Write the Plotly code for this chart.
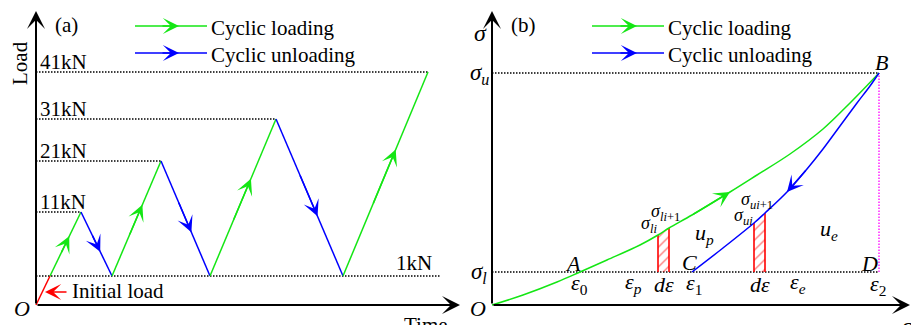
import plotly.graph_objects as go

# ---------------- data: panel (a) ----------------
time_pts = [0, 14, 45, 76, 125, 174, 240, 307, 392]
load_pts = [0, 29, 93, 29, 144, 29, 186, 29, 233]
seg_kind = ["initial", "load", "unload", "load", "unload", "load", "unload", "load"]
level_labels = ["1kN", "11kN", "21kN", "31kN", "41kN"]
level_heights = [29, 93, 144, 186, 233]

# ---------------- data: panel (b) ----------------
load_strain = [0, 31, 65, 88, 115, 148, 166, 177, 200, 238, 265, 298, 331, 358, 387]
load_stress = [0, 10, 23, 33, 45, 60, 70, 77, 90, 113, 130, 151, 176, 202, 232]
unload_strain = [200, 231, 262, 273, 295, 315, 331, 348, 365, 378, 387]
unload_stress = [33, 57, 82, 92, 113, 136, 156, 179, 202, 219, 232]
sigma_l, sigma_u = 33, 232
eps0, eps1, eps2 = 88, 200, 387

GREEN = "rgb(20,230,20)"
BLUE = "rgb(0,0,255)"
RED = "rgb(255,0,0)"
MAGENTA = "rgb(255,0,255)"
FONT = "Liberation Serif"
DOT = "1.5px,1.5px"
seg_color = {"initial": RED, "load": GREEN, "unload": BLUE}

fig = go.Figure()
ann = []


def text(x, y, s, sub=1, size=21, xanchor="center", yanchor="middle", color="black", angle=0):
    xr = "x" if sub == 1 else "x2"
    yr = "y" if sub == 1 else "y2"
    ann.append(dict(x=x, y=y, xref=xr, yref=yr, text=s, showarrow=False,
                    font=dict(family=FONT, size=size, color=color),
                    xanchor=xanchor, yanchor=yanchor, textangle=angle))


def arrow(x0, y0, x1, y1, sub=1, color="black", width=1.5, size=1.0, head=3):
    xr = "x" if sub == 1 else "x2"
    yr = "y" if sub == 1 else "y2"
    ann.append(dict(x=x1, y=y1, ax=x0, ay=y0, xref=xr, yref=yr, axref=xr, ayref=yr,
                    text="", showarrow=True, arrowhead=head, arrowsize=size,
                    arrowwidth=width, arrowcolor=color, standoff=0, startstandoff=0))


def line(xs, ys, sub=1, color="black", width=1.5, dash=None, shape="linear"):
    fig.add_trace(go.Scatter(x=xs, y=ys, mode="lines", xaxis="x" if sub == 1 else "x2",
                             yaxis="y" if sub == 1 else "y2", hoverinfo="skip",
                             line=dict(color=color, width=width, dash=dash, shape=shape),
                             showlegend=False))


# ================= panel (a) =================
for lab, h in zip(level_labels, level_heights):
    peaks = [t for t, l in zip(time_pts, load_pts) if l == h]
    end = peaks[-1] if lab != "1kN" else time_pts[-1] + 13
    line([0, end], [h, h], 1, "black", 1.3, DOT)
    if lab == "1kN":
        text(time_pts[-1] - 14, h + 13, lab, 1)
    else:
        text(27, h + 10, lab, 1)

for i, kind in enumerate(seg_kind):
    x0, x1 = time_pts[i], time_pts[i + 1]
    y0, y1 = load_pts[i], load_pts[i + 1]
    line([x0, x1], [y0, y1], 1, seg_color[kind], 1.5)
    if kind != "initial":
        f0, f1 = 0.35, 0.62
        arrow(x0 + f0 * (x1 - x0), y0 + f0 * (y1 - y0), x0 + f1 * (x1 - x0), y0 + f1 * (y1 - y0),
              1, seg_color[kind], 1.5, 1.8)

# axes
arrow(0, 0, 0, 294, 1, "black", 2, 1.5)
arrow(0, 0, 424, 0, 1, "black", 2, 1.5)
text(-16, 242, "Load", 1, 21, angle=-90)
text(30, 280, "(a)", 1)
text(-14, -3, "<i>O</i>", 1, 22)
text(390, -6, "Time", 1, 21, yanchor="top")

# initial load note
arrow(32, 13, 9, 13, 1, RED, 1.5, 1.8)
text(34, 14, "Initial load", 1, 21, xanchor="left")

# legend (a)
line([99, 171], [279, 279], 1, GREEN, 1.5)
arrow(125, 279, 143, 279, 1, GREEN, 1.5, 1.8)
text(173, 277, "Cyclic loading", 1, 21, xanchor="left")
line([99, 171], [252, 252], 1, BLUE, 1.5)
arrow(125, 252, 143, 252, 1, BLUE, 1.5, 1.8)
text(173, 250, "Cyclic unloading", 1, 21, xanchor="left")

# ================= panel (b) =================
line([0, eps2], [sigma_u, sigma_u], 2, "black", 1.3, DOT)
line([0, eps2], [sigma_l, sigma_l], 2, "black", 1.3, DOT)
line([eps2, eps2], [sigma_l, sigma_u], 2, MAGENTA, 1.3, DOT)


def strip(xs, ys, i0, i1):
    xa, xb = xs[i0], xs[i1]
    ya, yb = ys[i0], ys[i1]
    fig.add_trace(go.Scatter(x=[xa, xa, xb, xb], y=[sigma_l, ya, yb, sigma_l], fill="toself",
                             mode="none", xaxis="x2", yaxis="y2", hoverinfo="skip", showlegend=False,
                             fillcolor="rgba(0,0,0,0)",
                             fillpattern=dict(shape="/", fgcolor=RED, bgcolor="rgba(255,255,255,0)",
                                              size=7, solidity=0.2)))
    fig.add_trace(go.Scatter(x=[xa, xa, None, xb, xb], y=[sigma_l, ya, None, sigma_l, yb], mode="lines",
                             xaxis="x2", yaxis="y2", hoverinfo="skip", showlegend=False,
                             line=dict(color=RED, width=1.6)))


strip(load_strain, load_stress, load_strain.index(166), load_strain.index(177))
strip(unload_strain, unload_stress, unload_strain.index(262), unload_strain.index(273))

line(load_strain, load_stress, 2, GREEN, 1.5, shape="spline")
line(unload_strain, unload_stress, 2, BLUE, 1.5, shape="spline")
gi = load_strain.index(238)
arrow(load_strain[gi - 1], load_stress[gi - 1], load_strain[gi], load_stress[gi], 2, GREEN, 1.5, 1.8)
bi = unload_strain.index(295)
arrow(unload_strain[bi + 1], unload_stress[bi + 1], unload_strain[bi], unload_stress[bi], 2, BLUE, 1.5, 1.8)

# axes
arrow(0, 0, 0, 294, 2, "black", 2, 1.5)
arrow(0, 0, 418, 0, 2, "black", 2, 1.5)
text(-12, 272, "<i>σ</i>", 2, 24)
text(31, 280, "(b)", 2)
text(-13, sigma_u - 1, "<i>σ</i><sub><i>u</i></sub>", 2, 23)
text(-13, sigma_l - 1, "<i>σ</i><sub><i>l</i></sub>", 2, 23)
text(-14, -3, "<i>O</i>", 2, 22)
text(415, -6, "<i>ε</i>", 2, 24, yanchor="top")

text(eps2 + 2, sigma_u + 11, "<i>B</i>", 2, 22)
text(eps0 - 7, sigma_l + 9, "<i>A</i>", 2, 22)
text(eps1 - 3, sigma_l + 10, "<i>C</i>", 2, 22)
text(eps2 - 10, sigma_l + 9, "<i>D</i>", 2, 22)
text(eps0 - 1, sigma_l - 12, "<i>ε</i><sub>0</sub>", 2, 22)
text(141, sigma_l - 11, "<i>ε</i><sub><i>p</i></sub>", 2, 22)
text(172, sigma_l - 12, "<i>dε</i>", 2, 22)
text(eps1 + 2, sigma_l - 12, "<i>ε</i><sub>1</sub>", 2, 22)
text(268, sigma_l - 12, "<i>dε</i>", 2, 22)
text(306, sigma_l - 11, "<i>ε</i><sub><i>e</i></sub>", 2, 22)
text(eps2 - 1, sigma_l - 13, "<i>ε</i><sub>2</sub>", 2, 22)
text(157, 81, "<i>σ</i><sub><i>li</i></sub>", 2, 18)
text(173, 93, "<i>σ</i><sub><i>li</i>+1</sub>", 2, 18)
text(251, 89, "<i>σ</i><sub><i>ui</i></sub>", 2, 18)
text(265, 105, "<i>σ</i><sub><i>ui</i>+1</sub>", 2, 18)
text(212, 71, "<i>u</i><sub><i>p</i></sub>", 2, 22)
text(337, 75, "<i>u</i><sub><i>e</i></sub>", 2, 22)

line([100, 172], [279, 279], 2, GREEN, 1.5)
arrow(127, 279, 145, 279, 2, GREEN, 1.5, 1.8)
text(174, 277, "Cyclic loading", 2, 21, xanchor="left")
line([100, 172], [252, 252], 2, BLUE, 1.5)
arrow(127, 252, 145, 252, 2, BLUE, 1.5, 1.8)
text(174, 250, "Cyclic unloading", 2, 21, xanchor="left")

ax_common = dict(visible=False, fixedrange=True)
fig.update_layout(
    width=911, height=325, margin=dict(l=0, r=0, t=0, b=0),
    paper_bgcolor="white", plot_bgcolor="white",
    font=dict(family=FONT),
    xaxis=dict(domain=[0, 460 / 911], range=[-36, 424], **ax_common),
    yaxis=dict(domain=[0, 1], range=[-20, 305], **ax_common),
    xaxis2=dict(domain=[460 / 911, 1], range=[-32, 419], anchor="y2", **ax_common),
    yaxis2=dict(domain=[0, 1], range=[-20, 305], anchor="x2", **ax_common),
    annotations=ann, showlegend=False,
)
fig.write_html("out.html")
